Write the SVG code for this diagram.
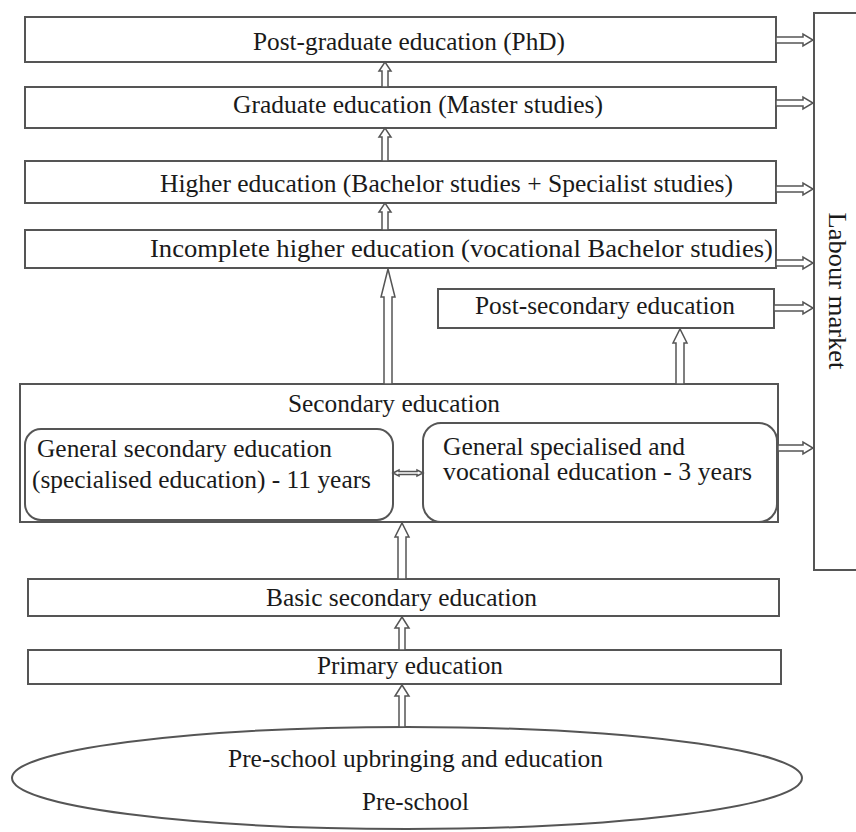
<svg xmlns="http://www.w3.org/2000/svg" width="856" height="832" viewBox="0 0 856 832">
<style>
.box{fill:#fff;stroke:#555;stroke-width:2}
.rbox{fill:#fff;stroke:#555;stroke-width:2}
.arr{fill:#fff;stroke:#555;stroke-width:1.5;stroke-linejoin:miter}
.t{font-family:"Liberation Serif","Times New Roman",serif;font-size:25px;fill:#1a1a1a}
.m{text-anchor:middle}
</style>
<rect width="856" height="832" fill="#fff"/>
<g id="labour-market">
<path d="M860 13 H814 V570 H860" fill="none" stroke="#555" stroke-width="2"/>
<text class="t m" x="829" y="291" transform="rotate(90 829 291)" textLength="157" lengthAdjust="spacingAndGlyphs">Labour market</text>
</g>
<g id="phd">
<rect class="box" x="25" y="17" width="751" height="45"/>
<text class="t" x="253" y="50" textLength="312" lengthAdjust="spacingAndGlyphs">Post-graduate education (PhD)</text>
</g>
<g id="master">
<rect class="box" x="25" y="87" width="751" height="41"/>
<text class="t" x="233" y="113" textLength="370" lengthAdjust="spacingAndGlyphs">Graduate education (Master studies)</text>
</g>
<g id="bachelor">
<rect class="box" x="25" y="161" width="751" height="42"/>
<text class="t" x="160" y="192" textLength="573" lengthAdjust="spacingAndGlyphs">Higher education (Bachelor studies + Specialist studies)</text>
</g>
<g id="incomplete">
<rect class="box" x="25" y="230" width="751" height="38"/>
<text class="t" x="150" y="257" textLength="623" lengthAdjust="spacingAndGlyphs">Incomplete higher education (vocational Bachelor studies)</text>
</g>
<g id="post-secondary">
<rect class="box" x="438" y="289" width="336" height="39"/>
<text class="t" x="475" y="314" textLength="260" lengthAdjust="spacingAndGlyphs">Post-secondary education</text>
</g>
<g id="secondary">
<rect class="box" x="20" y="384" width="758" height="138"/>
<text class="t" x="288" y="412" textLength="212" lengthAdjust="spacingAndGlyphs">Secondary education</text>
</g>
<g id="general-secondary">
<rect class="rbox" x="25" y="429" width="368" height="91" rx="16"/>
<text class="t" x="37" y="457" textLength="295" lengthAdjust="spacingAndGlyphs">General secondary education</text>
<text class="t" x="32" y="488" textLength="339" lengthAdjust="spacingAndGlyphs">(specialised education) - 11 years</text>
</g>
<g id="vocational">
<rect class="rbox" x="423" y="423" width="354" height="99" rx="18"/>
<text class="t" x="443" y="455" textLength="242" lengthAdjust="spacingAndGlyphs">General specialised and</text>
<text class="t" x="443" y="480" textLength="309" lengthAdjust="spacingAndGlyphs">vocational education - 3 years</text>
</g>
<g id="basic-secondary">
<rect class="box" x="28" y="579" width="751" height="37"/>
<text class="t" x="266" y="606" textLength="271" lengthAdjust="spacingAndGlyphs">Basic secondary education</text>
</g>
<g id="primary">
<rect class="box" x="28" y="650" width="753" height="34"/>
<text class="t" x="317" y="674" textLength="186" lengthAdjust="spacingAndGlyphs">Primary education</text>
</g>
<g id="pre-school">
<ellipse cx="407" cy="778" rx="395" ry="51" fill="#fff" stroke="#555" stroke-width="2"/>
<text class="t" x="228" y="767" textLength="375" lengthAdjust="spacingAndGlyphs">Pre-school upbringing and education</text>
<text class="t" x="362" y="810" textLength="107" lengthAdjust="spacingAndGlyphs">Pre-school</text>
</g>
<g id="connectors">
<!-- vertical up arrows -->
<polygon class="arr" points="382,87 382,71 379,71 385,62 391,71 388,71 388,87"/>
<polygon class="arr" points="382,161 382,137 379,137 385,128 391,137 388,137 388,161"/>
<polygon class="arr" points="382,230 382,212 379,212 385,203 391,212 388,212 388,230"/>
<polygon class="arr" points="384,384 384,297 381,297 388,269 395,297 392,297 392,384"/>
<polygon class="arr" points="676,384 676,343 673,343 680,329 687,343 684,343 684,384"/>
<polygon class="arr" points="398,579 398,537 395,537 402,523 409,537 406,537 406,579"/>
<polygon class="arr" points="399,650 399,628 395,628 402,617 409,628 405,628 405,650"/>
<polygon class="arr" points="399,727 399,696 395,696 402,685 409,696 405,696 405,727"/>
<!-- right arrows to labour market -->
<polygon class="arr" points="776,37 803,37 803,34 813,40 803,46 803,43 776,43"/>
<polygon class="arr" points="776,100 803,100 803,97 813,103 803,109 803,106 776,106"/>
<polygon class="arr" points="776,186 803,186 803,183 813,189 803,195 803,192 776,192"/>
<polygon class="arr" points="776,260 803,260 803,257 813,263 803,269 803,266 776,266"/>
<polygon class="arr" points="774,305 803,305 803,302 813,308 803,314 803,311 774,311"/>
<polygon class="arr" points="778,445 803,445 803,442 813,448 803,454 803,451 778,451"/>
<!-- double arrow between inner boxes -->
<polygon class="arr" points="393,473 399,470 399,471.5 417,471.5 417,470 423,473 417,476 417,474.5 399,474.5 399,476"/>
</g>
</svg>
